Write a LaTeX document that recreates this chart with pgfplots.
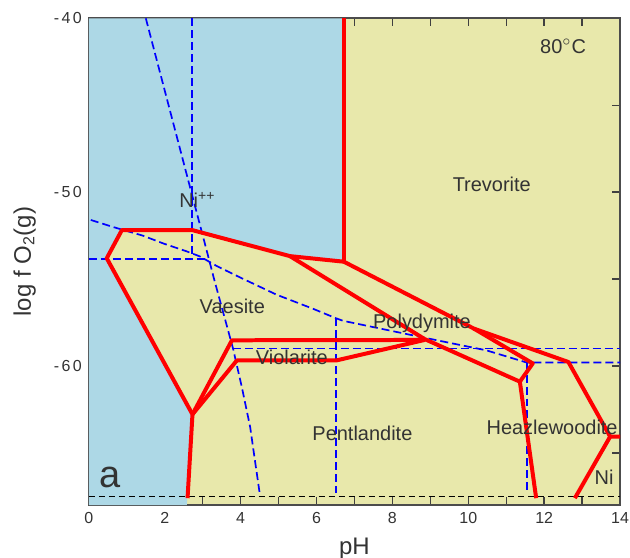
\documentclass[border=0pt]{standalone}
\usepackage{pgfplots}
\pgfplotsset{compat=1.18}
\usepackage{fontspec}
\setmainfont{Liberation Sans}
\newfontfamily\tickfont[LetterSpace=15]{Liberation Sans}
\definecolor{niblue}{HTML}{ADD8E6}
\definecolor{fieldyellow}{HTML}{E8E8AB}
\begin{document}
\begin{tikzpicture}
\begin{axis}[
  name=ax,
  scale only axis, width=265.85pt, height=243.7pt,
  xmin=0, xmax=14, ymin=-68, ymax=-40,
  xtick={0,2,...,14}, xticklabels={0,2,4,6,8,10,12,14},
  minor xtick={1,3,...,13},
  ytick={-60,-50,-40}, yticklabels={-60,-50,-40},
  minor ytick={-65,-55,-45},
  tick align=inside, tick pos=both,
  major tick length=4pt, minor tick length=4pt,
  axis background/.style={fill=fieldyellow},
  axis line style={draw=black!70, line width=0.9pt},
  every tick/.style={black!75, line width=0.7pt},
  every minor tick/.style={black!75, line width=0.7pt},
  xticklabel style={font=\fontsize{8}{9}\selectfont, text=black!80},
  yticklabel style={font=\tickfont\fontsize{8}{9}\selectfont, text=black!80},
  xlabel={pH}, ylabel={log f O\textsubscript{2}(g)},
  label style={font=\fontsize{12}{14}\selectfont, text=black!80},
  xlabel style={at={(axis description cs:0.5,-0.089)}, anchor=center},
  ylabel style={at={(axis description cs:-0.121,0.5)}, anchor=center},
  every node/.append style={text=black!80},
  bluedash/.style={blue, line width=0.85pt, dash pattern=on 4pt off 2pt},
]
% Ni++ field
\addplot[fill=niblue, draw=none] coordinates {
  (0,-40) (6.72,-40) (6.72,-54.0) (5.3,-53.68) (2.72,-52.18) (0.87,-52.18)
  (0.47,-53.8) (2.73,-62.78) (2.58,-68) (0,-68)} -- cycle;

% blue dashed lines
\addplot[bluedash] coordinates {(2.72,-40) (2.72,-53.85)};
\addplot[bluedash] coordinates {(0,-53.85) (3.15,-53.85)};
\addplot[bluedash] coordinates {
  (1.5,-40) (2.1,-45) (2.7,-50) (3.05,-52.9) (3.3,-55) (3.55,-57) (3.8,-59)
  (4.03,-61.2) (4.25,-63.5) (4.5,-67.3)};
\addplot[bluedash] coordinates {
  (0.05,-51.6) (0.63,-52.0) (1.42,-52.5) (1.96,-52.95) (2.57,-53.4) (2.93,-53.7)
  (3.37,-54.25) (3.98,-54.9) (4.95,-55.9) (5.9,-56.7) (6.51,-57.25) (6.7,-57.4)
  (8.46,-58.2) (10.48,-59.1) (11.54,-59.8) (14,-59.8)};
\addplot[bluedash] coordinates {(3.8,-59.0) (14,-59.0)};
\addplot[bluedash] coordinates {(6.51,-57.25) (6.51,-67.3)};
\addplot[bluedash] coordinates {(11.54,-59.8) (11.54,-67.3)};
% black dashed bottom line
\addplot[black, line width=0.6pt, dash pattern=on 3pt off 2pt] coordinates {(0,-67.5) (14,-67.5)};

% red field boundaries
\addplot[red, line width=2pt, line join=round] coordinates {(6.72,-40) (6.72,-54.0)};
\addplot[red, line width=2pt, line join=round] coordinates {
  (6.72,-54.0) (5.3,-53.68) (2.72,-52.18) (0.87,-52.18) (0.47,-53.8) (2.73,-62.78) (2.6,-67.6)};
\addplot[red, line width=2pt, line join=round] coordinates {(2.73,-62.78) (3.77,-58.52) (8.85,-58.5)};
\addplot[red, line width=2pt, line join=round] coordinates {(2.73,-62.78) (3.90,-59.68) (6.52,-59.68) (8.85,-58.5)};
\addplot[red, line width=2pt, line join=round] coordinates {(5.3,-53.68) (8.85,-58.45) (11.36,-60.9) (11.79,-67.6)};
\addplot[red, line width=2pt, line join=round] coordinates {(6.72,-54.0) (10.15,-57.85) (12.64,-59.77) (13.74,-64.06) (14,-64.06)};
\addplot[red, line width=2pt, line join=round] coordinates {(10.15,-57.85) (11.70,-59.85) (11.36,-60.9)};
\addplot[red, line width=2pt, line join=round] coordinates {(13.74,-64.06) (12.81,-67.6)};

% labels
\begin{scope}[every node/.style={font=\fontsize{10}{12}\selectfont, text=black!80, anchor=base, inner sep=0pt}]
\node at (axis cs:2.86,-50.9) {Ni\textsuperscript{++}};
\node at (axis cs:10.62,-49.94) {Trevorite};
\node at (axis cs:12.5,-42.0) {80$^\circ$C};
\node at (axis cs:3.78,-57.0) {Vaesite};
\node at (axis cs:8.78,-57.87) {Polydymite};
\node at (axis cs:5.35,-59.94) {Violarite};
\node at (axis cs:7.21,-64.31) {Pentlandite};
\node at (axis cs:12.21,-63.93) {Heazlewoodite};
\node at (axis cs:13.58,-66.8) {Ni};
\node[font=\fontsize{19}{22}\selectfont] at (axis cs:0.55,-67.0) {a};
\end{scope}
\end{axis}
\pgfresetboundingbox
\path[use as bounding box] ([shift={(-44.5pt,-26.15pt)}]ax.south west) rectangle ([shift={(5pt,9.15pt)}]ax.north east);
\end{tikzpicture}
\end{document}
